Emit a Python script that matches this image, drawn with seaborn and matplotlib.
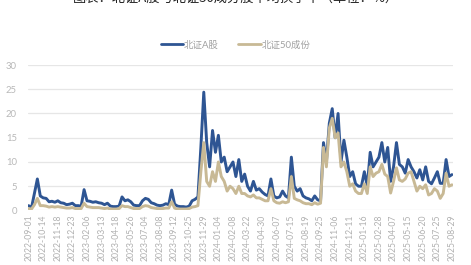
import numpy as np
import pandas as pd
import matplotlib
matplotlib.use("Agg")
import matplotlib.pyplot as plt
import seaborn as sns

# ---- data ----
tick_labels = ["2022-09-01", "2022-10-14", "2022-11-18", "2022-12-23", "2023-02-06",
               "2023-03-13", "2023-04-18", "2023-05-26", "2023-07-04", "2023-08-08",
               "2023-09-12", "2023-10-25", "2023-11-29", "2024-01-04", "2024-02-08",
               "2024-03-22", "2024-04-30", "2024-06-07", "2024-07-15", "2024-08-19",
               "2024-09-25", "2024-11-06", "2024-12-11", "2025-01-16", "2025-02-28",
               "2025-04-07", "2025-05-15", "2025-06-20", "2025-07-25", "2025-08-29"]

bz_a = [1.0, 0.6, 3.5, 6.5, 3.0, 2.6, 2.5, 1.8, 1.9, 1.7,
        2.0, 1.6, 1.5, 1.2, 1.3, 1.5, 1.0, 1.0, 0.9, 4.3,
        2.0, 1.9, 1.7, 1.8, 1.6, 1.5, 1.2, 1.5, 0.9, 0.8,
        0.8, 0.9, 2.8, 2.0, 2.2, 1.8, 1.1, 1.0, 1.0, 2.0,
        2.5, 2.3, 1.6, 1.4, 1.1, 1.0, 1.1, 1.4, 1.2, 4.2,
        1.3, 0.9, 0.8, 0.8, 0.7, 0.9, 2.0, 2.3, 2.8, 13.0,
        24.4, 14.0, 9.0, 16.5, 12.0, 15.5, 10.0, 11.0, 8.0, 9.0,
        10.0, 7.0, 10.5, 6.0, 7.5, 5.0, 4.0, 6.0, 4.2, 4.5,
        3.8, 3.3, 3.0, 6.5, 3.0, 2.6, 2.8, 4.0, 3.0, 2.6,
        11.0, 5.0, 4.0, 4.5, 3.0, 2.6, 2.4, 2.0, 3.0, 2.2,
        2.0, 14.0, 10.0, 18.0, 21.0, 15.0, 20.0, 10.0, 14.5, 11.0,
        7.0, 8.0, 5.5, 5.0, 5.0, 8.0, 5.0, 12.0, 9.0, 10.0,
        11.0, 14.0, 10.0, 13.0, 6.0, 9.0, 14.0, 9.5, 9.0, 7.7,
        10.5, 9.0, 8.0, 6.7, 8.4, 6.3, 9.0, 6.0, 5.5, 6.7,
        8.0, 5.6, 5.6, 10.5, 7.0, 7.4]

bz_50 = [0.4, 0.3, 1.2, 2.5, 1.0, 1.0, 0.9, 0.7, 0.8, 0.7,
         0.8, 0.7, 0.6, 0.5, 0.5, 0.6, 0.4, 0.4, 0.4, 1.5,
         0.8, 0.7, 0.6, 0.6, 0.6, 0.5, 0.4, 0.5, 0.3, 0.3,
         0.3, 0.4, 1.0, 0.8, 0.8, 0.6, 0.4, 0.4, 0.4, 0.8,
         1.0, 0.9, 0.6, 0.5, 0.4, 0.4, 0.4, 0.5, 0.5, 1.8,
         0.5, 0.3, 0.3, 0.3, 0.3, 0.4, 0.7, 0.8, 1.0, 8.0,
         14.0, 6.0, 5.0, 8.0, 6.0, 10.0, 7.0, 6.0, 4.0, 5.0,
         4.5, 3.5, 5.0, 3.5, 3.5, 3.0, 2.8, 3.2, 2.6, 2.6,
         2.3, 2.0, 2.0, 4.5, 2.0, 1.6, 1.5, 1.8, 1.6, 1.8,
         7.0, 2.5, 2.2, 2.0, 1.6, 1.4, 1.4, 1.2, 1.6, 1.3,
         1.5, 13.0, 9.0, 17.0, 19.0, 15.0, 16.0, 9.0, 10.0, 8.0,
         5.0, 5.5, 4.0, 3.5, 3.5, 5.5, 3.5, 9.0, 7.0, 7.7,
         8.0, 9.5, 7.5, 7.0, 3.6, 6.0, 8.8, 6.3, 6.0, 6.5,
         7.7, 8.0, 6.0, 4.0, 5.0, 4.5, 5.3, 3.2, 3.5, 4.5,
         4.0, 2.5, 3.5, 7.7, 5.0, 5.3]

series_names = ["北证A股", "北证50成份"]
colors = ["#2e5593", "#c8b995"]

# ---- build ----
idx = np.arange(len(bz_a))
df = pd.concat([
    pd.DataFrame({"i": idx, "v": bz_a, "s": series_names[0]}),
    pd.DataFrame({"i": idx, "v": bz_50, "s": series_names[1]}),
])

sns.set_theme(style="white")
plt.rcParams["font.family"] = ["Lato", "Noto Sans CJK SC", "DejaVu Sans"]

fig = plt.figure(figsize=(4.71, 2.65), dpi=100)
ax = fig.add_axes([0.0595, 0.2057, 0.9025, 0.549])

sns.lineplot(data=df, x="i", y="v", hue="s", palette=colors, linewidth=2.1,
             ax=ax, legend=True)

ax.set_ylim(0, 30)
ax.set_yticks([0, 5, 10, 15, 20, 25, 30])
ax.set_xlim(-0.2, len(bz_a) - 0.6)
step = (len(bz_a) - 1) // (len(tick_labels) - 1)
ax.set_xticks(np.arange(0, len(bz_a), step))
ax.set_xticklabels(tick_labels, rotation=90)
ax.tick_params(axis="x", labelsize=6.2, colors="#b0b0b0", length=0, pad=3)
ax.tick_params(axis="y", labelsize=6.8, colors="#b8b8b8", length=0, pad=8)
ax.grid(axis="y", color="#e6e6e6", linewidth=0.9)
ax.set_axisbelow(True)
for sp in ax.spines.values():
    sp.set_visible(False)
ax.set_xlabel("")
ax.set_ylabel("")

handles, labels = ax.get_legend_handles_labels()
ax.get_legend().remove()
leg = fig.legend(handles, labels, loc="center", bbox_to_anchor=(0.5, 0.83),
                 ncol=2, frameon=False, fontsize=6.8, handlelength=2.4,
                 columnspacing=2.0, handletextpad=0.1)
for t in leg.get_texts():
    t.set_color("#a0a0a0")
for h in leg.get_lines():
    h.set_linewidth(2.0)

fig.text(0.5, 1.005, "图表：北证A股与北证50成分股平均换手率（单位：%）",
         ha="center", va="center", fontsize=9.5, color="#222222",
         family=["Noto Sans CJK SC", "DejaVu Sans"])

fig.savefig("out.png", dpi=100)
